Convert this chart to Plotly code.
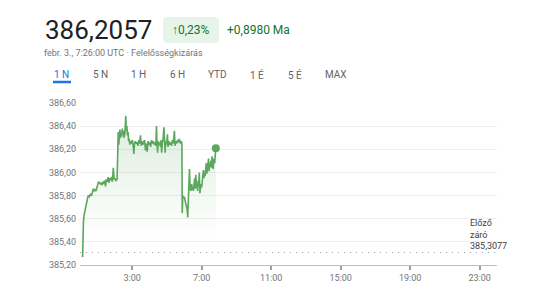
import datetime as dt
import plotly.graph_objects as go

# ---- data (minutes after midnight, price) ----
minutes = [9, 10, 12, 14, 17, 20, 24, 28, 32, 36, 40, 43, 46, 49, 52, 55, 58, 61, 64, 67,
           70, 73, 76, 79, 82, 85, 88, 91, 94, 97, 100, 103, 106, 109, 112, 115, 118, 121, 124, 128,
           130, 132, 134, 136, 138, 140, 142, 144, 146, 148, 150, 152, 155, 158, 160, 162, 164, 166, 168, 170,
           172, 175, 178, 181, 184, 186, 188, 191, 194, 197, 200, 203, 206, 209, 211, 214, 217, 220, 223, 226,
           229, 232, 235, 238, 241, 244, 247, 250, 253, 256, 259, 262, 264, 266, 268, 270, 272, 275, 278, 280,
           282, 284, 287, 290, 292, 294, 296, 299, 302, 304, 307, 310, 313, 316, 319, 322, 326, 328, 331, 334,
           337, 340, 343, 347, 350, 352,
           353, 355, 357, 360, 363, 366, 368, 370, 372, 374, 376, 378, 380, 382, 384, 386, 388, 390, 392, 394,
           396, 398, 400, 402, 404, 406, 408, 410, 412, 414, 416, 418, 420, 422, 424, 426, 428, 430, 432, 434,
           436, 438, 440, 442, 444, 446, 448, 450, 452, 454, 456, 458, 460, 462, 465, 469]
prices = [385.27, 385.45, 385.58, 385.63, 385.67, 385.72, 385.77, 385.80, 385.79, 385.81, 385.80, 385.83, 385.86, 385.84, 385.85, 385.84, 385.87, 385.89, 385.92, 385.91,
          385.90, 385.91, 385.89, 385.92, 385.90, 385.93, 385.88, 385.94, 385.92, 385.96, 385.91, 385.95, 385.93, 385.96, 385.92, 386.04, 385.94, 385.95, 385.93, 385.94,
          386.30, 386.35, 386.24, 386.33, 386.37, 386.30, 386.34, 386.31, 386.38, 386.33, 386.36, 386.30, 386.34, 386.49, 386.36, 386.40, 386.32, 386.35, 386.27, 386.29,
          386.24, 386.27, 386.25, 386.28, 386.22, 386.16, 386.24, 386.27, 386.25, 386.26, 386.23, 386.28, 386.25, 386.32, 386.23, 386.27, 386.24, 386.26, 386.28, 386.19,
          386.25, 386.18, 386.27, 386.24, 386.26, 386.22, 386.28, 386.25, 386.27, 386.24, 386.26, 386.23, 386.40, 386.24, 386.17, 386.27, 386.24, 386.26, 386.22, 386.28,
          386.17, 386.25, 386.29, 386.39, 386.25, 386.17, 386.27, 386.24, 386.33, 386.22, 386.27, 386.24, 386.26, 386.23, 386.28, 386.25, 386.36, 386.23, 386.27, 386.25,
          386.28, 386.26, 386.29, 386.25, 386.27, 386.24,
          385.65, 385.80, 385.78, 385.79, 385.76, 385.74, 385.72, 385.68, 385.61, 385.75, 385.85, 386.03, 385.88, 385.84, 385.86, 385.90, 385.85, 385.87, 385.84, 385.88,
          385.95, 385.86, 385.98, 385.87, 385.89, 385.84, 385.93, 385.88, 386.00, 385.82, 385.85, 385.90, 385.87, 385.93, 385.96, 386.02, 385.95, 386.00, 385.97, 386.04,
          386.08, 385.99, 386.03, 386.06, 386.12, 386.01, 386.08, 386.05, 386.10, 386.04, 386.14, 386.06, 386.03, 386.12, 386.08, 386.21]
prev_close = 385.3077
y_ticks = [385.20, 385.40, 385.60, 385.80, 386.00, 386.20, 386.40, 386.60]
x_tick_hours = [3, 7, 11, 15, 19, 23]
x_tick_labels = ["3:00", "7:00", "11:00", "15:00", "19:00", "23:00"]
tabs = ["1 N", "5 N", "1 H", "6 H", "YTD", "1 É", "5 É", "MAX"]
tab_px = [61, 100, 138, 177, 217, 257, 295, 336]

base = dt.datetime(2025, 2, 3)
times = [base + dt.timedelta(minutes=m) for m in minutes]
tickvals = [base + dt.timedelta(hours=h) for h in x_tick_hours]

GREEN = "#5aa75d"
FONT = "Roboto"

# plot geometry (pixels)
W, H = 540, 304
ML, MR, MT, MB = 80, 43, 103, 39
PW, PH = W - ML - MR, H - MT - MB


def px(x):
    return (x - ML) / PW


def py(y):
    return (H - MB - y) / PH


fig = go.Figure()
fig.add_trace(go.Scatter(
    x=times, y=prices, mode="lines",
    line=dict(color=GREEN, width=1.6),
    fill="tozeroy",
    fillgradient=dict(type="vertical", start=385.42, stop=386.45,
                      colorscale=[[0, "rgba(90,167,93,0)"], [1, "rgba(90,167,93,0.2)"]]),
    hoverinfo="skip", showlegend=False,
))
fig.add_trace(go.Scatter(
    x=[times[-1]], y=[prices[-1]], mode="markers",
    marker=dict(color=GREEN, size=8), cliponaxis=False,
    hoverinfo="skip", showlegend=False,
))

fig.add_shape(type="line", xref="paper", yref="y", x0=0, x1=1, y0=prev_close, y1=prev_close,
              line=dict(color="#9aa0a6", width=1, dash="1px,5px"))

ann = []
ann.append(dict(text="386,2057", x=px(43), y=py(30), xanchor="left", yanchor="middle",
                font=dict(size=26, color="#202124", family=FONT)))
fig.add_shape(type="path", xref="paper", yref="paper",
              path=f"M {px(167)},{py(17)} L {px(215)},{py(17)} Q {px(219)},{py(17)} {px(219)},{py(21)} "
                   f"L {px(219)},{py(39)} Q {px(219)},{py(43)} {px(215)},{py(43)} L {px(167)},{py(43)} "
                   f"Q {px(163)},{py(43)} {px(163)},{py(39)} L {px(163)},{py(21)} Q {px(163)},{py(17)} {px(167)},{py(17)} Z",
              fillcolor="#e6f4ea", line=dict(width=0))
ann.append(dict(text="↑0,23%", x=px(191), y=py(30), xanchor="center", yanchor="middle",
                font=dict(size=12, color="#137333", family=FONT)))
ann.append(dict(text="+0,8980 Ma", x=px(225), y=py(30), xanchor="left", yanchor="middle",
                font=dict(size=12, color="#137333", family=FONT)))
ann.append(dict(text="febr. 3., 7:26:00 UTC · Felelősségkizárás", x=px(42), y=py(53), xanchor="left",
                yanchor="middle", font=dict(size=9, color="#70757a", family=FONT)))
for t, xp in zip(tabs, tab_px):
    ann.append(dict(text=t, x=px(xp), y=py(74.5), xanchor="center", yanchor="middle",
                    font=dict(size=10, color="#1a73e8" if t == "1 N" else "#5f6368", family=FONT)))
fig.add_shape(type="line", xref="paper", yref="paper", x0=px(53), x1=px(71), y0=py(82), y1=py(82),
              line=dict(color="#1a73e8", width=2.5))
ann.append(dict(text="Előző<br>záró<br>385,3077", x=px(468), y=py(216), xanchor="left", yanchor="top",
                align="left", font=dict(size=9, color="#3c4043", family=FONT)))
for a in ann:
    a.update(xref="paper", yref="paper", showarrow=False)

fig.update_layout(
    width=W, height=H, margin=dict(l=ML, r=MR, t=MT, b=MB),
    paper_bgcolor="white", plot_bgcolor="white",
    separators=", ",
    font=dict(family=FONT, size=9, color="#70757a"),
    annotations=ann,
    xaxis=dict(range=[base, base + dt.timedelta(hours=24)], tickvals=tickvals, ticktext=x_tick_labels,
               showgrid=False, showline=True, linecolor="#bdc1c6", linewidth=1,
               ticks="outside", ticklen=4, tickwidth=1.5, tickcolor="#9aa0a6",
               tickfont=dict(size=9, color="#70757a"), zeroline=False),
    yaxis=dict(range=[385.20, 386.60], tickvals=y_ticks, tickformat=".2f",
               showgrid=True, gridcolor="#eeeff1", gridwidth=1, zeroline=False,
               showline=False, ticks="", tickfont=dict(size=9, color="#70757a"),
               ticklabelstandoff=3),
)

fig.write_html("out.html")
